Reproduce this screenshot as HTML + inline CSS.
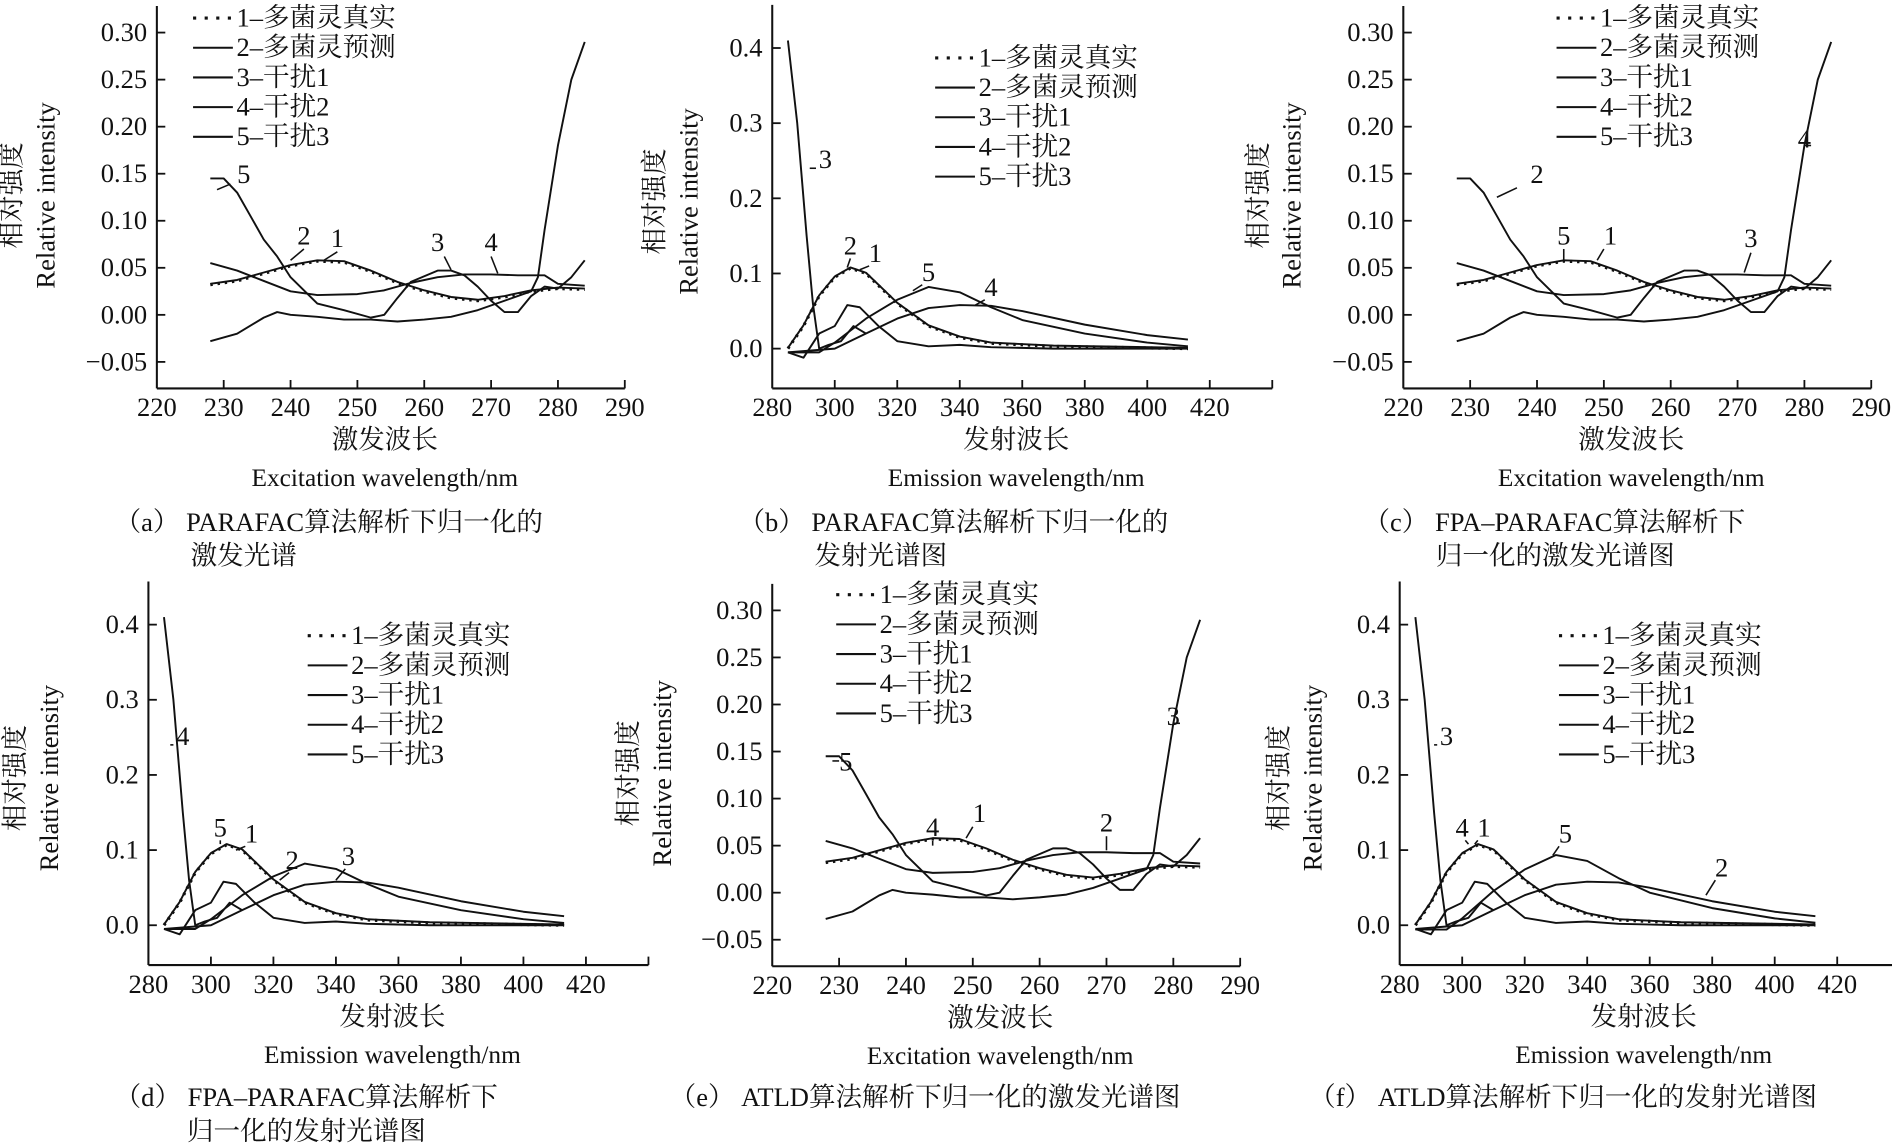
<!DOCTYPE html>
<html><head><meta charset="utf-8">
<style>
html,body{margin:0;padding:0;background:#fff;}
svg{display:block;}
text{font-family:"Liberation Serif","Noto Serif CJK SC",serif;fill:#111;}
</style></head>
<body>
<svg id="s" xmlns="http://www.w3.org/2000/svg" width="1892" height="1146" viewBox="0 0 1568 950" preserveAspectRatio="none"></svg>
<script>
const s=document.getElementById('s');
let out='';
function T(x,y,t,sz,anch,extra){out+=`<text x="${x}" y="${y}" font-size="${sz||20}" text-anchor="${anch||'middle'}" ${extra||''}>${t}</text>`;}
function L(x1,y1,x2,y2,w,d){out+=`<line x1="${x1}" y1="${y1}" x2="${x2}" y2="${y2}" stroke="#111" stroke-width="${w||1.4}" ${d?`stroke-dasharray="${d}"`:''}/>`;}
function panel(p){
  const X=v=>p.x0+(v-p.xmin)/(p.xstep)*p.xpx;
  const Y=v=>p.y0-(v-p.ymin)/(p.ystep)*p.ypx;
  L(p.x0,p.top,p.x0,p.axy,1.7);
  L(p.x0,p.axy,X(p.xend),p.axy,1.7);
  for(let v=p.xmin+p.xstep;v<=p.xend+1e-9;v+=p.xstep)L(X(v),p.axy,X(v),p.axy-7,1.5);
  for(let v=p.xmin;v<=p.xmax+1e-9;v+=p.xstep)T(X(v),p.axy+23,Math.round(v),22);
  for(let i=0;i<p.ylabels.length;i++){const v=p.ymin+i*p.ystep;L(p.x0,Y(v),p.x0+7,Y(v),1.5);T(p.x0-8,Y(v)+7,p.ylabels[i],22,'end');}
  T(p.yt1,p.ytc,'相对强度',22,'middle',`transform="rotate(-90 ${p.yt1} ${p.ytc})"`);
  T(p.yt2,p.ytc,'Relative intensity',22,'middle',`transform="rotate(-90 ${p.yt2} ${p.ytc})"`);
  const cx=(p.x0+X(p.xend))/2-5;
  T(cx,p.axy+50,p.xt1,22);T(cx,p.axy+81,p.xt2,21);
  p.series.forEach(sr=>{
    const pts=sr.d.map(q=>X(q[0]).toFixed(1)+','+Y(q[1]).toFixed(1)).join(' ');
    out+=`<polyline points="${pts}" fill="none" stroke="#111" stroke-width="${sr.w||1.6}" ${sr.dash?`stroke-dasharray="${sr.dash}"`:''} stroke-linejoin="round"/>`;
  });
  p.labels.forEach(l=>{T(X(l[0]),Y(l[1]),l[2],22);if(l[3])L(X(l[3][0]),Y(l[3][1]),X(l[3][2]),Y(l[3][3]),1.3);});
  const names=['1–多菌灵真实','2–多菌灵预测','3–干扰1','4–干扰2','5–干扰3'];
  names.forEach((n,i)=>{const y=p.ly+i*24.6;
    if(i==0)L(p.lx,y,p.lx+33,y,2.6,'2.6 7');else L(p.lx,y,p.lx+33,y,1.7);
    T(p.lx+36,y+7,n,22,'start');});
}
const exA={
 c1:[[228,.032],[232,.036],[236,.044],[240,.052],[244,.057],[248,.056],[252,.046],[256,.034],[260,.025],[264,.018],[268,.015],[272,.019],[276,.025],[280,.028],[284,.027]],
 c5:[[228,.145],[230,.145],[232,.13],[234,.105],[236,.08],[238,.062],[240,.04],[244,.012],[248,.005],[252,-.003],[254,0],[256,.018],[258,.035],[262,.047],[264,.047],[266,.042],[268,.03],[270,.015],[272,.003],[274,.003],[276,.02],[278,.03],[280,.028],[282,.04],[284,.058]],
 c4:[[228,.055],[232,.047],[236,.036],[240,.025],[244,.021],[250,.022],[254,.026],[258,.034],[262,.04],[266,.043],[270,.043],[274,.042],[278,.042],[280,.033],[284,.031]],
 c3:[[228,-.028],[232,-.02],[236,-.003],[238,.003],[240,0],[244,-.002],[248,-.005],[252,-.005],[256,-.007],[260,-.005],[264,-.002],[268,.005],[272,.015],[276,.025],[277,.04],[278,.09],[280,.18],[282,.25],[284,.29]]
};
const emB={
 s3:[[285,.41],[288,.3],[291,.15],[293,.06],[295,.0],[298,.005],[302,.01],[306,.03],[310,.02]],
 c1:[[285,0],[290,.03],[295,.07],[300,.095],[305,.107],[310,.1],[315,.08],[320,.06],[330,.03],[340,.015],[350,.007],[370,.003],[413,0]],
 c5:[[285,-.005],[295,-.005],[300,.008],[310,.04],[320,.065],[330,.082],[340,.075],[350,.055],[360,.038],[380,.02],[400,.008],[413,.003]],
 c4:[[285,-.005],[300,0],[310,.02],[320,.04],[330,.054],[340,.058],[350,.057],[360,.05],[380,.032],[400,.018],[413,.012]],
 c6:[[285,-.005],[290,-.012],[295,.02],[300,.03],[304,.058],[308,.055],[314,.03],[320,.01],[330,.003],[340,.005],[350,.002],[370,0],[413,0]]
};
const ylE=['−0.05','0.00','0.05','0.10','0.15','0.20','0.25','0.30'];
const ylM=['0.0','0.1','0.2','0.3','0.4'];
function exPanel(x0,y0top,lx,ly,yt1,yt2,labels){
  return {x0:x0,xmin:220,xmax:290,xend:290,xstep:10,xpx:55.4,ymin:-0.05,ystep:0.05,ypx:39,y0:y0top+273,top:y0top-22,axy:y0top+295,
   ylabels:ylE,yt1:yt1,yt2:yt2,ytc:y0top+135,xt1:'激发波长',xt2:'Excitation wavelength/nm',lx:lx,ly:ly,
   series:[{d:exA.c1,dash:'2 4',w:2.6},{d:exA.c1.map(q=>[q[0],q[1]+.001])},{d:exA.c5},{d:exA.c4},{d:exA.c3}],labels:labels};
}
function emPanel(x0,y00,lx,ly,yt1,yt2,labels,variant){
  const s=[{d:emB.c1,dash:'2 4',w:2.6},{d:emB.c1.map(q=>[q[0],q[1]+.001])},{d:emB.s3},{d:variant?emB.c5.map(q=>[q[0],q[1]*variant]):emB.c5},{d:emB.c4},{d:emB.c6}];
  return {x0:x0,xmin:280,xmax:420,xend:440,xstep:20,xpx:51.8,ymin:0,ystep:0.1,ypx:62.3,y0:y00,top:y00-285,axy:y00+33,
   ylabels:ylM,yt1:yt1,yt2:yt2,ytc:y00-122,xt1:'发射波长',xt2:'Emission wavelength/nm',lx:lx,ly:ly,series:s,labels:labels};
}
panel(exPanel(130,27,160,15,17,45,[[233,.14,'5',[229,.133,231,.139]],[242,.075,'2',[242,.07,240,.058]],[247,.072,'1',[247,.067,245,.058]],[262,.068,'3',[263,.062,264,.048]],[270,.068,'4',[270,.062,271,.044]]]));
panel(emPanel(640,289,775,48,550,578,[[297,.24,'3',[292,.24,294,.24]],[305,.125,'2',[305,.12,304,.108]],[313,.115,'1',[311,.11,308,.105]],[330,.09,'5',[328,.085,325,.077]],[350,.07,'4',[348,.065,345,.058]]]));
panel(exPanel(1163,27,1290,15,1050,1078,[[240,.14,'2',[237,.135,234,.125]],[244,.075,'5',[244,.07,244,.058]],[251,.075,'1',[250,.07,249,.058]],[272,.072,'3',[272,.066,271,.045]],[280,.178,'4',[281,.18,280,.18]]]));
panel(emPanel(123,767,255,527,20,48,[[291,.24,'4',[287,.24,288,.24]],[303,.118,'5',[303,.113,303,.108]],[313,.11,'1',[311,.105,308,.1]],[326,.075,'2',[325,.07,322,.06]],[344,.08,'3',[343,.075,340,.06]]]));
panel(exPanel(640,506,693,493,528,556,[[231,.13,'5',[229,.14,230,.14]],[244,.06,'4',[244,.055,244,.05]],[251,.075,'1',[250,.07,249,.058]],[270,.065,'2',[270,.06,270,.045]],[280,.178,'3',[281,.18,280,.18]]]));
panel(emPanel(1160,767,1292,527,1067,1095,[[295,.24,'3',[291,.24,292,.24]],[300,.118,'4',[301,.113,302,.108]],[307,.118,'1',[305,.113,304,.108]],[333,.11,'5',[331,.105,329,.093]],[383,.065,'2',[381,.06,378,.04]]],1.14));
T(95,440,'（a） PARAFAC算法解析下归一化的',22,'start');T(158,468,'激发光谱',22,'start');
T(612,440,'（b） PARAFAC算法解析下归一化的',22,'start');T(675,468,'发射光谱图',22,'start');
T(1130,440,'（c） FPA–PARAFAC算法解析下',22,'start');T(1190,468,'归一化的激发光谱图',22,'start');
T(95,917,'（d） FPA–PARAFAC算法解析下',22,'start');T(155,945,'归一化的发射光谱图',22,'start');
T(555,917,'（e） ATLD算法解析下归一化的激发光谱图',22,'start');
T(1085,917,'（f） ATLD算法解析下归一化的发射光谱图',22,'start');
s.innerHTML=out;
</script>
</body></html>
